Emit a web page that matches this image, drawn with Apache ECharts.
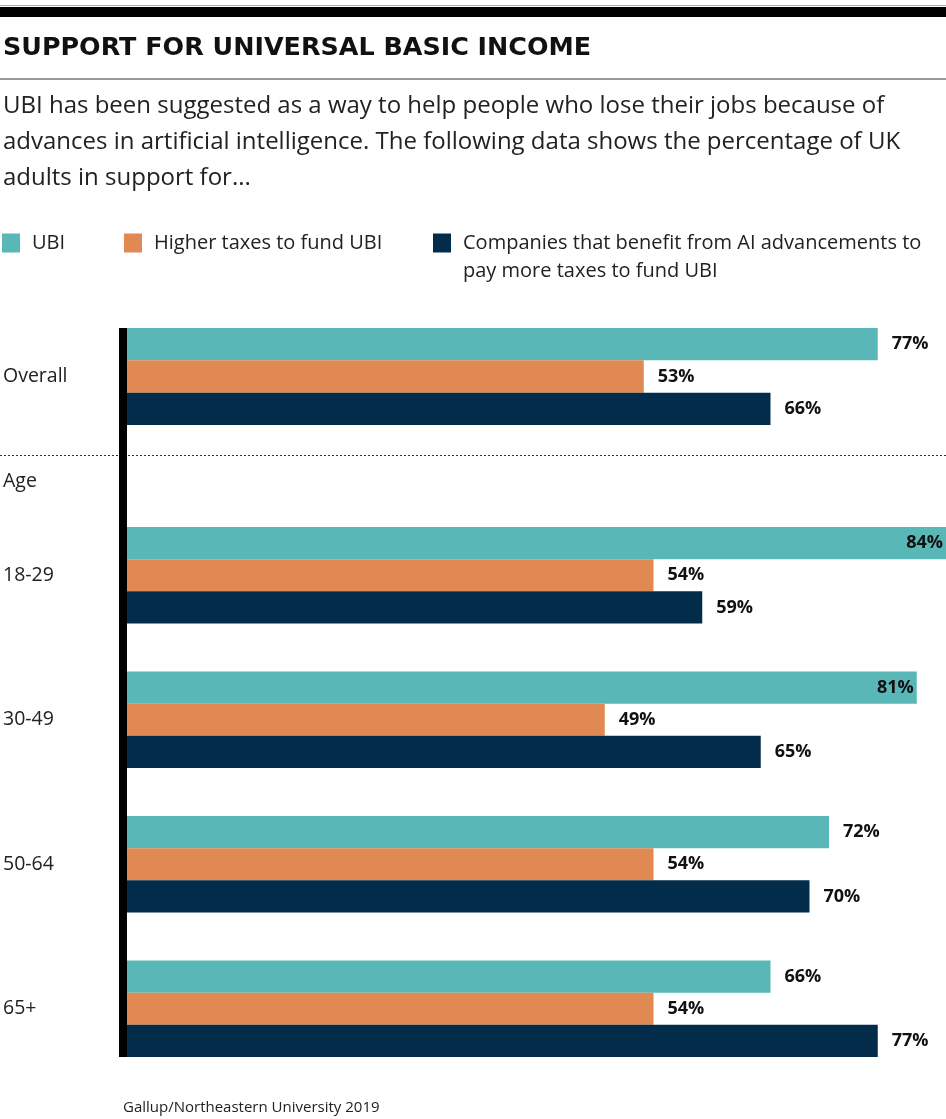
<!DOCTYPE html>
<html>
<head>
<meta charset="utf-8">
<script src="https://cdn.jsdelivr.net/npm/echarts@6/dist/echarts.min.js"></script>
<style>
html,body{margin:0;padding:0;background:#fff;}
#main{width:946px;height:1119px;}
</style>
</head>
<body>
<div id="main"></div>
<script>
// ---- data ----
const overallCategories = ['Overall'];
const ageCategories = ['18-29', '30-49', '50-64', '65+'];
const seriesNames = ['UBI', 'Higher taxes to fund UBI', 'Companies that benefit from AI advancements to pay more taxes to fund UBI'];
const ubiOverall = [77];
const taxesOverall = [53];
const companiesOverall = [66];
const ubiAge = [84, 81, 72, 66];
const taxesAge = [54, 49, 54, 54];
const companiesAge = [59, 65, 70, 77];
const titleText = 'SUPPORT FOR UNIVERSAL BASIC INCOME';
const subtitleText = 'UBI has been suggested as a way to help people who lose their jobs because of\nadvances in artificial intelligence. The following data shows the percentage of UK\nadults in support for...';
const sourceText = 'Gallup/Northeastern University 2019';
const ageHeader = 'Age';

// ---- styles ----
const FONT = '"Open Sans", "Liberation Sans", sans-serif';
const TITLE_FONT = '"DejaVu Sans", "Open Sans", sans-serif';
const colors = ['#5ab7b8', '#e08952', '#032c4b'];
const XMAX = 84;

function mkData(vals) {
  return vals.map(v => v >= 80
    ? { value: v, label: { position: 'insideRight', distance: 3 } }
    : { value: v });
}
const labelCfg = {
  show: true, position: 'right', distance: 14,
  formatter: '{c}%', fontFamily: FONT, fontWeight: 'bold', fontSize: 18, color: '#111'
};
function mkSeries(name, vals, idx, gridIdx) {
  return {
    type: 'bar', name: name, data: mkData(vals),
    xAxisIndex: gridIdx, yAxisIndex: gridIdx,
    barGap: '0%', barCategoryGap: gridIdx === 0 ? '0%' : '33.2%',
    itemStyle: { color: colors[idx] },
    label: labelCfg, silent: true, animation: false
  };
}

const legendBase = {
  icon: 'rect', itemWidth: 18, itemHeight: 19, padding: 0, selectedMode: false,
  textStyle: { fontFamily: FONT, fontSize: 20, color: '#222', padding: [0, 0, 0, 7] }
};

const yAxisBase = {
  type: 'category', inverse: true,
  axisLine: { show: false }, axisTick: { show: false },
  axisLabel: { align: 'left', margin: 124, fontFamily: FONT, fontSize: 19.5, color: '#222' }
};
const xAxisBase = { type: 'value', min: 0, max: XMAX, show: false };

const chart = echarts.init(document.getElementById('main'), null, { renderer: 'canvas' });
chart.setOption({
  animation: false,
  backgroundColor: '#fff',
  color: colors,
  grid: [
    { left: 127, right: 0, top: 328, height: 97 },
    { left: 127, right: 0, top: 503, height: 578 }
  ],
  xAxis: [Object.assign({ gridIndex: 0 }, xAxisBase), Object.assign({ gridIndex: 1 }, xAxisBase)],
  yAxis: [
    Object.assign({}, yAxisBase, { gridIndex: 0, data: overallCategories }),
    Object.assign({}, yAxisBase, { gridIndex: 1, data: ageCategories })
  ],
  legend: [
    Object.assign({}, legendBase, { data: [seriesNames[0]], left: 2, top: 233 }),
    Object.assign({}, legendBase, { data: [seriesNames[1]], left: 124, top: 233 }),
    Object.assign({}, legendBase, {
      data: [seriesNames[2]], left: 433, top: 201,
      formatter: '\nCompanies that benefit from AI advancements to\npay more taxes to fund UBI',
      textStyle: { fontFamily: FONT, fontSize: 20, color: '#222', lineHeight: 28, padding: [0, 0, 0, 7] }
    })
  ],
  series: [
    mkSeries(seriesNames[0], ubiOverall, 0, 0),
    mkSeries(seriesNames[1], taxesOverall, 1, 0),
    mkSeries(seriesNames[2], companiesOverall, 2, 0),
    mkSeries(seriesNames[0], ubiAge, 0, 1),
    mkSeries(seriesNames[1], taxesAge, 1, 1),
    mkSeries(seriesNames[2], companiesAge, 2, 1)
  ],
  graphic: [
    { type: 'rect', shape: { x: 0, y: 5, width: 946, height: 1 }, style: { fill: '#a8a8a8' }, silent: true },
    { type: 'rect', shape: { x: 0, y: 7, width: 946, height: 10 }, style: { fill: '#000' }, silent: true },
    { type: 'text', style: { text: titleText, x: 3, y: 48, verticalAlign: 'middle', fill: '#111', font: 'bold 25.4px ' + TITLE_FONT }, silent: true },
    { type: 'rect', shape: { x: 0, y: 78, width: 946, height: 2 }, style: { fill: '#999' }, silent: true },
    { type: 'text', style: { text: subtitleText, x: 3, y: 88, verticalAlign: 'top', lineHeight: 36, fill: '#222', font: '24px ' + FONT }, silent: true },
    { type: 'line', shape: { x1: 0, y1: 455.5, x2: 946, y2: 455.5 }, style: { stroke: '#333', lineWidth: 1, lineDash: [2, 2] }, silent: true },
    { type: 'text', style: { text: ageHeader, x: 3, y: 481, verticalAlign: 'middle', fill: '#222', font: '19.5px ' + FONT }, silent: true },
    { type: 'rect', shape: { x: 119, y: 328, width: 8, height: 729 }, style: { fill: '#000' }, silent: true, z: 10 },
    { type: 'text', style: { text: sourceText, x: 123, y: 1108, verticalAlign: 'middle', fill: '#222', font: '15px ' + FONT }, silent: true }
  ]
});
</script>
</body>
</html>
